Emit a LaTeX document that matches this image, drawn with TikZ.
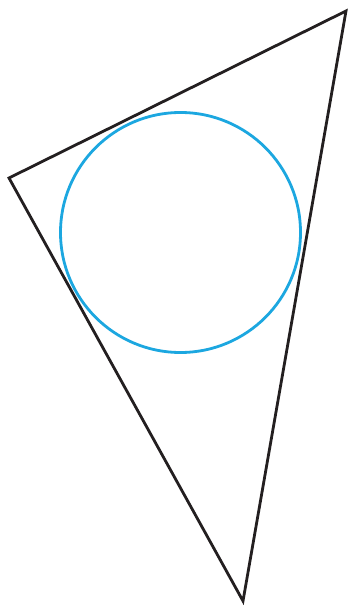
\documentclass[tikz,border=0pt]{standalone}
\usepackage{xcolor}
\usepackage{tikz}
\definecolor{edgec}{HTML}{231F20}
\definecolor{circc}{HTML}{1CA7E0}
\tikzset{
  side/.style={line width=2.8pt,edgec,line join=miter},
  incirc/.style={line width=2.8pt,circc}
}
\begin{document}
\begin{tikzpicture}[x=1pt,y=-1pt]
\useasboundingbox (0,0) rectangle (351,609);
\coordinate (vA) at (9,178);
\coordinate (vB) at (346,11);
\coordinate (vC) at (243,601);
\coordinate (ctr) at (180.5,232.5);
\draw[side] (vA)--(vB)--(vC)--cycle;
\draw[incirc] (ctr) circle[radius=120];
\end{tikzpicture}
\end{document}
